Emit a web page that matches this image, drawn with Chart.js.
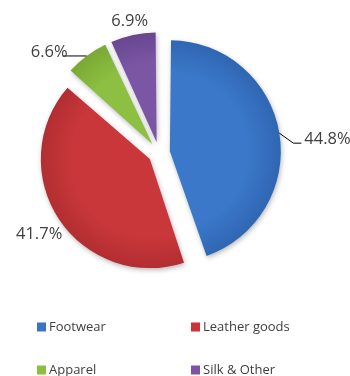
<!DOCTYPE html>
<html><head><meta charset="utf-8">
<script src="https://cdn.jsdelivr.net/npm/chart.js@4.4.1/dist/chart.umd.min.js"></script>
<style>html,body{margin:0;padding:0;background:#fff}#wrap{width:350px;height:376px;position:relative}</style>
</head><body><div id="wrap"><canvas id="c"></canvas></div>
<script>
const categories = ['Footwear', 'Leather goods', 'Apparel', 'Silk & Other'];
const shares = [44.8, 41.7, 6.6, 6.9];
const baseColors = ['#3B78C9', '#C9373A', '#8DBF42', '#7B56A5'];
const edgeColors = ['#2F66B2', '#B02D31', '#79A834', '#674690'];
const legendColors = ['#3A74C5', '#CC3336', '#8CBF3F', '#7D52A7'];

const OFFSET = 44;
const RADIUS = 103.5;
const FONT = '"Open Sans", "Liberation Sans", sans-serif';

const labelStyles = [
  {type: 'leader', pts: [[0, 0], [14, 10], [22, 10]], tx: 25, ty: 11, align: 'left'},
  {type: 'radial', extra: 24},
  {type: 'leader', pts: [[0, 0], [-24, 0]], tx: -19, ty: 1, align: 'right'},
  {type: 'radial', extra: 15}
];
const legendSlots = [[37, 327], [191, 327], [37, 370], [191, 370]];

function arcGeom(arc) {
  const p = arc.getProps(['x', 'y', 'startAngle', 'endAngle', 'outerRadius', 'circumference'], true);
  const off = OFFSET / 4;
  const h = (p.startAngle + p.endAngle) / 2;
  const fix = 1 - Math.sin(Math.min(Math.PI, p.circumference));
  return {cx: p.x + Math.cos(h) * off, cy: p.y + Math.sin(h) * off, r: p.outerRadius + off * fix, h};
}

const decor = {
  id: 'decor',
  beforeDatasetsDraw(chart) {
    const ctx = chart.ctx;
    ctx.save();
    ctx.shadowColor = 'rgba(0,0,0,0.28)';
    ctx.shadowBlur = 5;
    ctx.shadowOffsetX = 1;
    ctx.shadowOffsetY = 2;
  },
  afterDatasetsDraw(chart) {
    const ctx = chart.ctx;
    ctx.restore();
    const meta = chart.getDatasetMeta(0);
    ctx.save();
    ctx.font = '16.5px ' + FONT;
    ctx.fillStyle = '#404040';
    ctx.strokeStyle = '#000';
    ctx.lineWidth = 1;
    meta.data.forEach((arc, i) => {
      const g = arcGeom(arc);
      const st = labelStyles[i];
      const text = shares[i].toFixed(1) + '%';
      if (st.type === 'leader') {
        const ax = g.cx + Math.cos(g.h) * g.r;
        const ay = g.cy + Math.sin(g.h) * g.r;
        ctx.beginPath();
        st.pts.forEach(([dx, dy], k) => {
          if (k === 0) ctx.moveTo(ax + dx, ay + dy); else ctx.lineTo(ax + dx, ay + dy);
        });
        ctx.stroke();
        ctx.textAlign = st.align;
        ctx.textBaseline = 'alphabetic';
        ctx.fillText(text, ax + st.tx, ay + st.ty);
      } else {
        const lx = g.cx + Math.cos(g.h) * (g.r + st.extra);
        const ly = g.cy + Math.sin(g.h) * (g.r + st.extra);
        ctx.textAlign = 'center';
        ctx.textBaseline = 'alphabetic';
        ctx.fillText(text, lx, ly + 6);
      }
    });
    ctx.restore();
  },
  afterDraw(chart) {
    const ctx = chart.ctx;
    ctx.save();
    ctx.font = '13px ' + FONT;
    ctx.textAlign = 'left';
    ctx.textBaseline = 'middle';
    chart.data.labels.forEach((lab, i) => {
      const [x, y] = legendSlots[i];
      ctx.fillStyle = legendColors[i];
      ctx.fillRect(x, y - 4.5, 9, 9);
      ctx.fillStyle = '#404040';
      ctx.fillText(lab, x + 12, y);
    });
    ctx.restore();
  }
};

function sliceFill(c) {
  const chart = c.chart;
  const i = c.dataIndex;
  const a = chart.chartArea;
  if (!a) return baseColors[i];
  const cx = (a.left + a.right) / 2, cy = (a.top + a.bottom) / 2;
  const g = chart.ctx.createRadialGradient(cx, cy, 0, cx, cy, RADIUS + 8);
  g.addColorStop(0, baseColors[i]);
  g.addColorStop(0.7, baseColors[i]);
  g.addColorStop(1, edgeColors[i]);
  return g;
}

new Chart(document.getElementById('c'), {
  type: 'pie',
  data: {
    labels: categories,
    datasets: [{
      data: shares,
      backgroundColor: sliceFill,
      borderWidth: 0,
      offset: OFFSET,
      hoverOffset: 0
    }]
  },
  options: {
    responsive: true,
    maintainAspectRatio: false,
    animation: false,
    events: [],
    radius: RADIUS,
    layout: {padding: {left: 0, right: 32, top: 0, bottom: 70}},
    plugins: {legend: {display: false}, tooltip: {enabled: false}, title: {display: false}}
  },
  plugins: [decor]
});
</script>
</body></html>
